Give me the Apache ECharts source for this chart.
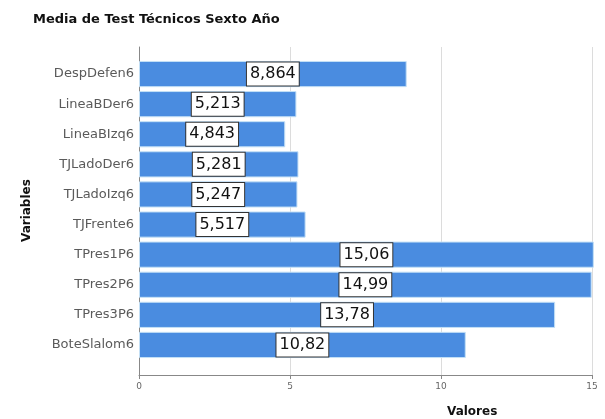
<!DOCTYPE html>
<html><head><meta charset="utf-8">
<script src="https://cdn.jsdelivr.net/npm/echarts@6/dist/echarts.min.js"></script>
<style>html,body{margin:0;padding:0;background:#fff}#c{width:605px;height:419px}</style>
</head><body><div id="c"></div>
<script>
const chartTitle = 'Media de Test Técnicos Sexto Año';
const xAxisName = 'Valores';
const yAxisName = 'Variables';
const categories = ['DespDefen6','LineaBDer6','LineaBIzq6','TJLadoDer6','TJLadoIzq6','TJFrente6','TPres1P6','TPres2P6','TPres3P6','BoteSlalom6'];
const values = [8.864,5.213,4.843,5.281,5.247,5.517,15.06,14.99,13.78,10.82];
const xMin = 0, xMax = 15, xInterval = 5;

const FONT = 'DejaVu Sans';
const chart = echarts.init(document.getElementById('c'), null, {renderer: 'canvas'});
chart.setOption({
  animation: false,
  backgroundColor: '#fff',
  title: {
    text: chartTitle, left: 28, top: 8,
    textStyle: {fontFamily: FONT, fontSize: 13, fontWeight: 'bold', color: '#111'}
  },
  graphic: [
    {type: 'text', left: 447, top: 406, style: {text: xAxisName, fontFamily: FONT, fontSize: 12, fontWeight: 'bold', fill: '#111'}},
    {type: 'text', x: 21, y: 242, rotation: Math.PI / 2, style: {text: yAxisName, fontFamily: FONT, fontSize: 12, fontWeight: 'bold', fill: '#111'}}
  ],
  grid: [
    {left: 139, right: 13, top: 47, bottom: 44},
    {left: 139, right: 13, top: 59, bottom: 59}
  ],
  xAxis: [
    {gridIndex: 0, type: 'value', min: xMin, max: xMax, interval: xInterval,
     axisLine: {show: true, lineStyle: {color: '#888', width: 1}},
     axisTick: {show: true, length: 4, lineStyle: {color: '#888'}},
     axisLabel: {fontFamily: FONT, fontSize: 9, color: '#666', margin: 7},
     splitLine: {show: true, lineStyle: {color: '#dcdcdc', width: 1}}},
    {gridIndex: 1, type: 'value', min: xMin, max: xMax, interval: xInterval, show: false,
     splitLine: {show: false}}
  ],
  yAxis: [
    {gridIndex: 0, type: 'value', min: 0, max: 1,
     axisLine: {show: true, lineStyle: {color: '#888', width: 1}},
     axisTick: {show: false}, axisLabel: {show: false}, splitLine: {show: false}},
    {gridIndex: 1, type: 'category', data: categories, inverse: true,
     axisLine: {show: false}, axisTick: {show: false},
     axisLabel: {fontFamily: FONT, fontSize: 13, color: '#5a5a5a', margin: 5},
     splitLine: {show: false}}
  ],
  series: [{
    type: 'bar', xAxisIndex: 1, yAxisIndex: 1, data: values,
    barCategoryGap: '13%', clip: false,
    itemStyle: {color: '#4a8ce0', borderColor: '#c4e0f6', borderWidth: 1},
    label: {
      show: true, position: 'inside',
      formatter: p => p.value.toPrecision(4).replace('.', ','),
      fontFamily: FONT, fontSize: 16, color: '#111',
      backgroundColor: '#fff', borderColor: '#333', borderWidth: 1, padding: [4, 3, 3, 3]
    }
  }]
});
</script></body></html>
